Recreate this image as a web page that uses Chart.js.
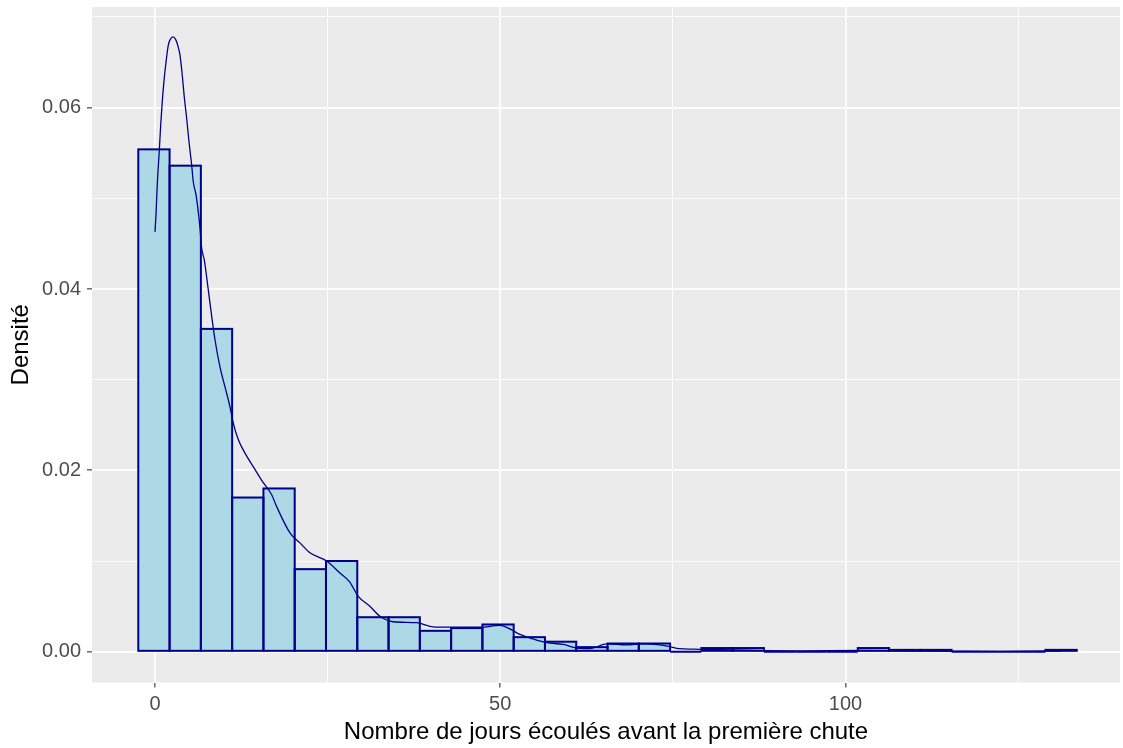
<!DOCTYPE html>
<html lang="fr">
<head>
<meta charset="utf-8">
<title>Densité — jours avant la première chute</title>
<script src="https://cdn.jsdelivr.net/npm/chart.js@4.4.0/dist/chart.umd.min.js"></script>
<style>
  html, body { margin: 0; padding: 0; background: #ffffff; }
  canvas { display: block; }
</style>
</head>
<body>
<canvas id="chart" width="1123" height="748"></canvas>
<script>
// Histogram bins (centre of each bin, in days) and their density
const binCenters = [-0.15, 4.38, 8.91, 13.44, 17.97, 22.50, 27.03, 31.56, 36.09, 40.62,
                    45.15, 49.68, 54.21, 58.74, 63.27, 67.80, 72.33, 76.86, 81.39, 85.92,
                    90.45, 94.98, 99.51, 104.04, 108.57, 113.10, 117.63, 122.16, 126.69, 131.22];
const binDensity = [0.0554, 0.0536, 0.0356, 0.0170, 0.0180, 0.0091, 0.0100, 0.0038, 0.0038, 0.0023,
                    0.0026, 0.0030, 0.0016, 0.0011, 0.0005, 0.0009, 0.0009, 0, 0.0004, 0.0004,
                    0, 0, 0, 0.0004, 0.0002, 0.0002, 0, 0, 0, 0.0002];

// Kernel density estimate
const curveX = [0, 0.15, 0.33, 0.62, 0.83, 1.06, 1.30, 1.55, 1.93, 2.27,
                2.65, 3.00, 3.29, 3.62, 3.95, 4.24, 4.59, 4.92, 5.31, 5.55,
                5.94, 6.27, 6.52, 6.76, 7.14, 7.72, 8.21, 8.69, 9.41, 10.14,
                10.86, 11.34, 12.06, 13.03, 14.23, 15.45, 16.90, 17.62, 19.55, 21.00,
                22.44, 24.86, 26.75, 28.19, 29.44, 31.13, 32.58, 34.51, 37.90, 39.82,
                41.27, 47.06, 49.96, 51.65, 52.85, 54.78, 56.72, 59.12, 61.06, 62.99,
                65.45, 68.30, 70.66, 73.13, 74.57, 75.54, 78.92, 83.51, 88.04, 93.4,
                102.1, 107.9, 115.1, 122.4, 129.6, 131.2];
const curveY = [0.0463, 0.0482, 0.0515, 0.0552, 0.0581, 0.0607, 0.0629, 0.0647, 0.0669, 0.0676,
                0.0678, 0.0675, 0.0669, 0.0658, 0.0636, 0.0612, 0.0588, 0.0563, 0.0537, 0.0518,
                0.0504, 0.0485, 0.0467, 0.0445, 0.0432, 0.0399, 0.0370, 0.0344, 0.0314, 0.0292,
                0.0270, 0.0252, 0.0234, 0.0219, 0.0204, 0.0189, 0.0173, 0.0160, 0.0131, 0.0120,
                0.0109, 0.0100, 0.0087, 0.0077, 0.0061, 0.0050, 0.0039, 0.0033, 0.0032, 0.0028,
                0.0027, 0.0027, 0.0029, 0.0024, 0.0019, 0.0014, 0.0010, 0.0008, 0.0004, 0.00035,
                0.00085, 0.00074, 0.00085, 0.00074, 0.00055, 0.00037, 0.00026, 0.00019, 0.00011, 0.00008,
                0.00013, 0.0001, 0.00006, 0.00003, 0.00008, 0.00006];

// Axis breaks
const xMajorTicks = [0, 50, 100];
const xMinorTicks = [25, 75, 125];
const yMajorTicks = [0, 0.02, 0.04, 0.06];
const yMinorTicks = [0.01, 0.03, 0.05, 0.07];

const xTitle = 'Nombre de jours écoulés avant la première chute';
const yTitle = 'Densité';

const PANEL_BG = '#EBEBEB';
const FILL = '#ADD8E6';
const OUTLINE = '#00008B';
const TEXT_GREY = '#4D4D4D';
const TICK_GREY = '#333333';
const FONT = "'Liberation Sans', Arial, sans-serif";

const isIn = (list, v) => list.some(m => Math.abs(m - v) < 1e-9);

// grey panel behind the grid
const panelBackground = {
  id: 'panelBackground',
  beforeDraw(chart) {
    const { ctx, chartArea: a } = chart;
    ctx.save();
    ctx.fillStyle = PANEL_BG;
    ctx.fillRect(a.left, a.top, a.right - a.left, a.bottom - a.top);
    ctx.restore();
  }
};

// bar outlines stroked on the bar edges (shared edges overlap into one line)
const barOutline = {
  id: 'barOutline',
  afterDatasetDraw(chart, args) {
    if (args.meta.type !== 'bar') return;
    const ctx = chart.ctx;
    ctx.save();
    ctx.strokeStyle = OUTLINE;
    ctx.lineWidth = 2;
    args.meta.data.forEach(bar => {
      const { x, y, base, width } = bar.getProps(['x', 'y', 'base', 'width'], true);
      const top = Math.min(y, base);
      ctx.strokeRect(x - width / 2, top, width, Math.abs(base - y));
    });
    ctx.restore();
  }
};

const gridFor = (major) => ({
  color: '#FFFFFF',
  lineWidth: c => (c.tick && isIn(major, c.tick.value)) ? 1.7 : 0.85,
  drawTicks: true,
  tickLength: 5,
  tickWidth: 1.1,
  tickColor: c => (c.tick && isIn(major, c.tick.value)) ? TICK_GREY : 'rgba(0,0,0,0)',
  offset: false
});

// fixed axis box sizes, no extra room for overhanging labels
const fixBox = (size) => (s) => {
  if (s.isHorizontal()) s.height = size; else s.width = size;
  s.paddingTop = 0; s.paddingBottom = 0; s.paddingLeft = 0; s.paddingRight = 0;
};

new Chart(document.getElementById('chart'), {
  type: 'bar',
  data: {
    datasets: [
      {
        type: 'line',
        label: 'densité',
        data: curveX.map((x, i) => ({ x, y: curveY[i] })),
        borderColor: OUTLINE,
        borderWidth: 1.3,
        pointRadius: 0,
        fill: false,
        cubicInterpolationMode: 'monotone',
        order: 0
      },
      {
        type: 'bar',
        label: 'histogramme',
        data: binCenters.map((x, i) => ({ x, y: binDensity[i] })),
        backgroundColor: FILL,
        borderWidth: 0,
        barPercentage: 1,
        categoryPercentage: 1,
        order: 1
      }
    ]
  },
  options: {
    responsive: false,
    animation: false,
    devicePixelRatio: 1,
    layout: { padding: { top: 7, right: 3, bottom: 0, left: 0 } },
    plugins: {
      legend: { display: false },
      tooltip: { enabled: false }
    },
    scales: {
      x: {
        type: 'linear',
        min: -9.12,
        max: 139.75,
        offset: false,
        afterBuildTicks: s => { s.ticks = [...xMajorTicks, ...xMinorTicks].sort((a, b) => a - b).map(v => ({ value: v })); },
        afterFit: fixBox(65.5),
        border: { display: false },
        grid: gridFor(xMajorTicks),
        ticks: {
          autoSkip: false,
          maxRotation: 0,
          padding: 5,
          color: TEXT_GREY,
          font: { family: FONT, size: 20 },
          callback: v => isIn(xMajorTicks, v) ? String(v) : ''
        },
        title: {
          display: true,
          text: xTitle,
          color: '#000000',
          font: { family: FONT, size: 24 },
          padding: { top: 0, bottom: 1 }
        }
      },
      y: {
        type: 'linear',
        min: -0.0034,
        max: 0.0711,
        afterBuildTicks: s => { s.ticks = [...yMajorTicks, ...yMinorTicks].sort((a, b) => a - b).map(v => ({ value: v })); },
        afterFit: fixBox(92),
        border: { display: false },
        grid: gridFor(yMajorTicks),
        ticks: {
          autoSkip: false,
          padding: 6,
          color: TEXT_GREY,
          font: { family: FONT, size: 20 },
          callback: v => isIn(yMajorTicks, v) ? v.toFixed(2) : ''
        },
        title: {
          display: true,
          text: yTitle,
          color: '#000000',
          font: { family: FONT, size: 24 },
          padding: { top: 7, bottom: 0 }
        }
      }
    }
  },
  plugins: [panelBackground, barOutline]
});
</script>
</body>
</html>
